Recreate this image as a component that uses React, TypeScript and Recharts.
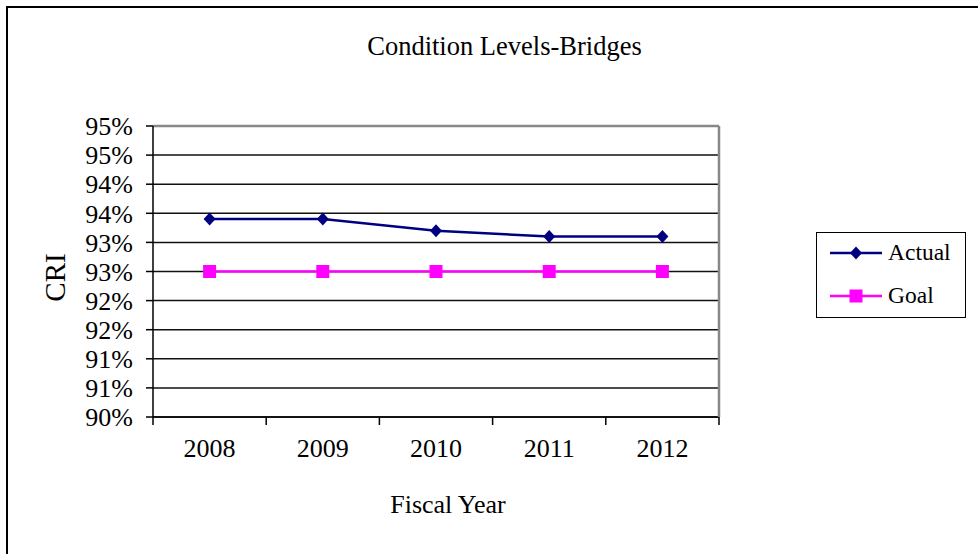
import React from 'react';
import { LineChart, Line, XAxis, YAxis, CartesianGrid, Legend, ReferenceLine } from 'recharts';

const years = ['2008', '2009', '2010', '2011', '2012'];
const actualValues = [93.4, 93.4, 93.2, 93.1, 93.1];
const goalValues = [92.5, 92.5, 92.5, 92.5, 92.5];
const yTicks = [90, 90.5, 91, 91.5, 92, 92.5, 93, 93.5, 94, 94.5, 95];
const yTickLabels = ['90%', '91%', '91%', '92%', '92%', '93%', '93%', '94%', '94%', '95%', '95%'];
const chartTitle = 'Condition Levels-Bridges';
const xTitle = 'Fiscal Year';
const yTitle = 'CRI';

const data = years.map((y, i) => ({ year: y, Actual: actualValues[i], Goal: goalValues[i] }));

const FONT = "'Liberation Serif', 'Times New Roman', serif";
const NAVY = '#000080';
const MAGENTA = '#FF00FF';
const X_TICK_SIZE = 8;
const X_TICK_MARGIN = 14;

const Diamond = ({ cx, cy, r = 6.5, fill }: any) => (
  <polygon points={`${cx},${cy - r} ${cx + r - 0.5},${cy} ${cx},${cy + r} ${cx - r + 0.5},${cy}`} fill={fill} />
);
const Square = ({ cx, cy, s = 13, fill }: any) => (
  <rect x={cx - s / 2} y={cy - s / 2} width={s} height={s} fill={fill} />
);

const XTick = (props: any) => {
  const { x, y, payload, index } = props;
  const off = payload && typeof payload.offset === 'number' ? payload.offset : 0;
  const axisY = y - X_TICK_SIZE - X_TICK_MARGIN;
  return (
    <g>
      <line x1={x - off} x2={x - off} y1={axisY} y2={axisY + X_TICK_SIZE} stroke="#000" strokeWidth={1.5} />
      {index === years.length - 1 && (
        <line x1={x + off} x2={x + off} y1={axisY} y2={axisY + X_TICK_SIZE} stroke="#000" strokeWidth={1.5} />
      )}
      <text x={x} y={y} dy="0.71em" textAnchor="middle" fontFamily={FONT} fontSize={26} fill="#000">
        {payload.value}
      </text>
    </g>
  );
};

const LegendContent = (props: any) => {
  const items = (props.payload || []) as any[];
  return (
    <div
      style={{
        width: 150,
        height: 86,
        boxSizing: 'border-box',
        border: '1.5px solid #000',
        background: '#fff',
        fontFamily: FONT,
        fontSize: 23.5,
        color: '#000',
      }}
    >
      {items.map((it: any, i: number) => (
        <div key={i} style={{ position: 'relative', height: 43 }}>
          <svg width={70} height={20} style={{ position: 'absolute', left: 0, top: 10 }}>
            <line x1={13} x2={65} y1={10} y2={10} stroke={it.color} strokeWidth={2.5} />
            {it.value === 'Actual' ? (
              <Diamond cx={39} cy={10} r={6.5} fill={it.color} />
            ) : (
              <Square cx={39} cy={10} s={13} fill={it.color} />
            )}
          </svg>
          <span style={{ position: 'absolute', left: 71, top: 4, lineHeight: '30px' }}>{it.value}</span>
        </div>
      ))}
    </div>
  );
};

export default function App() {
  return (
    <div style={{ position: 'absolute', left: 0, top: 0, width: 978, height: 554, overflow: 'hidden', background: '#fff' }}>
      <div
        style={{
          position: 'absolute',
          left: 6,
          top: 6,
          width: 1200,
          height: 800,
          borderLeft: '2px solid #000',
          borderTop: '2px solid #000',
        }}
      />
      <svg width={978} height={554} style={{ position: 'absolute', left: 0, top: 0, pointerEvents: 'none' }}>
        <text x={504.5} y={55} textAnchor="middle" fontFamily={FONT} fontSize={26.5} fill="#000">
          {chartTitle}
        </text>
      </svg>
      <div style={{ position: 'absolute', left: 0, top: 0 }}>
        <LineChart width={978} height={554} data={data} margin={{ top: 126, right: 258, bottom: 77, left: 0 }}>
          <CartesianGrid vertical={false} stroke="#111" strokeWidth={1.5} />
          <XAxis
            dataKey="year"
            scale="band"
            height={60}
            tickLine={false}
            tickSize={X_TICK_SIZE}
            tickMargin={X_TICK_MARGIN}
            tick={<XTick />}
            axisLine={{ stroke: '#000', strokeWidth: 1.5 }}
            label={{ value: xTitle, position: 'bottom', offset: 18, dx: 12, fontFamily: FONT, fontSize: 26, fill: '#000' }}
          />
          <YAxis
            type="number"
            domain={[90, 95]}
            ticks={yTicks}
            interval={0}
            width={153}
            tickSize={7}
            tickMargin={13}
            tickFormatter={(v: number) => yTickLabels[yTicks.indexOf(v)] ?? ''}
            tick={{ fontFamily: FONT, fontSize: 26, fill: '#000' }}
            tickLine={{ stroke: '#000', strokeWidth: 1.5 }}
            axisLine={{ stroke: '#000', strokeWidth: 1.5 }}
            label={{ value: yTitle, angle: -90, position: 'center', dx: -22, dy: 6, fontFamily: FONT, fontSize: 29, fill: '#000' }}
          />
          <YAxis
            yAxisId="right"
            orientation="right"
            type="number"
            domain={[90, 95]}
            ticks={yTicks}
            width={1}
            tick={false}
            tickLine={false}
            axisLine={{ stroke: '#888', strokeWidth: 2.5 }}
          />
          <ReferenceLine y={95} stroke="#888" strokeWidth={2.5} />
          <Legend
            layout="vertical"
            align="center"
            verticalAlign="middle"
            content={<LegendContent />}
            wrapperStyle={{ left: 816, top: 232, width: 150, height: 86 }}
          />
          <Line
            type="linear"
            dataKey="Actual"
            name="Actual"
            stroke={NAVY}
            strokeWidth={2.5}
            isAnimationActive={false}
            dot={(p: any) => <Diamond key={`a-${p.index}`} cx={p.cx} cy={p.cy} r={6.5} fill={NAVY} />}
            activeDot={false}
          />
          <Line
            yAxisId="right"
            type="linear"
            dataKey="Goal"
            name="Goal"
            stroke={MAGENTA}
            strokeWidth={2.5}
            isAnimationActive={false}
            dot={(p: any) => <Square key={`g-${p.index}`} cx={p.cx} cy={p.cy} s={13} fill={MAGENTA} />}
            activeDot={false}
          />
        </LineChart>
      </div>
    </div>
  );
}
